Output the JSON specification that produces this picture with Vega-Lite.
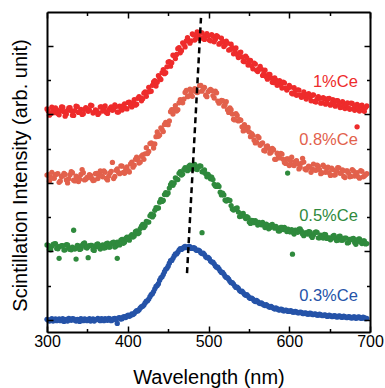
{
"$schema": "https://vega.github.io/schema/vega-lite/v6.json",
"width": 323, "height": 320,
"autosize": "none",
"padding": {"left": 47, "top": 12, "right": 15, "bottom": 56},
"config": {"view": {"stroke": null}, "font": "Liberation Sans"},
"datasets": {
"lbl": [{"c":"r","w":685,"v":6.95,"t":"1%Ce"},{"c":"o","w":685,"v":5.26,"t":"0.8%Ce"},{"c":"g","w":685,"v":3.04,"t":"0.5%Ce"},{"c":"b","w":685,"v":0.70,"t":"0.3%Ce"}],
"dash": [{"w":473.4,"v":1.37},{"w":490.7,"v":8.82}],
"pts": [
{"c":"b","w":300,"v":0.02},{"c":"b","w":303,"v":-0.03},{"c":"b","w":306,"v":0.04},{"c":"b","w":309,"v":0.00},{"c":"b","w":312,"v":-0.02},{"c":"b","w":315,"v":0.03},{"c":"b","w":318,"v":0.01},{"c":"b","w":321,"v":-0.04},{"c":"b","w":324,"v":0.02},{"c":"b","w":327,"v":0.05},{"c":"b","w":330,"v":-0.01},{"c":"b","w":333,"v":0.03},{"c":"b","w":336,"v":-0.03},{"c":"b","w":339,"v":0.01},{"c":"b","w":342,"v":0.04},{"c":"b","w":345,"v":-0.02},{"c":"b","w":348,"v":0.02},{"c":"b","w":351,"v":0.00},{"c":"b","w":354,"v":-0.03},{"c":"b","w":357,"v":0.03},{"c":"b","w":360,"v":0.01},{"c":"b","w":363,"v":0.05},{"c":"b","w":366,"v":-0.02},{"c":"b","w":369,"v":0.02},{"c":"b","w":372,"v":0.04},{"c":"b","w":375,"v":-0.01},{"c":"b","w":378,"v":0.03},{"c":"b","w":381,"v":0.00},{"c":"b","w":384,"v":0.05},{"c":"b","w":387,"v":-0.10},{"c":"b","w":390,"v":0.07},{"c":"b","w":393,"v":0.04},{"c":"b","w":396,"v":0.10},{"c":"b","w":399,"v":0.12},{"c":"b","w":402,"v":0.11},{"c":"b","w":405,"v":0.18},{"c":"b","w":408,"v":0.19},{"c":"b","w":411,"v":0.27},{"c":"b","w":414,"v":0.30},{"c":"b","w":417,"v":0.39},{"c":"b","w":420,"v":0.44},{"c":"b","w":423,"v":0.55},{"c":"b","w":426,"v":0.61},{"c":"b","w":429,"v":0.74},{"c":"b","w":432,"v":0.83},{"c":"b","w":435,"v":0.98},{"c":"b","w":438,"v":1.06},{"c":"b","w":441,"v":1.23},{"c":"b","w":444,"v":1.33},{"c":"b","w":447,"v":1.48},{"c":"b","w":450,"v":1.57},{"c":"b","w":453,"v":1.73},{"c":"b","w":456,"v":1.80},{"c":"b","w":459,"v":1.93},{"c":"b","w":462,"v":1.98},{"c":"b","w":465,"v":2.08},{"c":"b","w":468,"v":2.09},{"c":"b","w":471,"v":2.15},{"c":"b","w":474,"v":2.12},{"c":"b","w":477,"v":2.14},{"c":"b","w":480,"v":2.09},{"c":"b","w":483,"v":2.10},{"c":"b","w":486,"v":2.03},{"c":"b","w":489,"v":2.02},{"c":"b","w":492,"v":1.94},{"c":"b","w":495,"v":1.91},{"c":"b","w":498,"v":1.82},{"c":"b","w":501,"v":1.79},{"c":"b","w":504,"v":1.69},{"c":"b","w":507,"v":1.64},{"c":"b","w":510,"v":1.54},{"c":"b","w":513,"v":1.49},{"c":"b","w":516,"v":1.39},{"c":"b","w":519,"v":1.34},{"c":"b","w":522,"v":1.24},{"c":"b","w":525,"v":1.19},{"c":"b","w":528,"v":1.09},{"c":"b","w":531,"v":1.05},{"c":"b","w":534,"v":0.95},{"c":"b","w":537,"v":0.92},{"c":"b","w":540,"v":0.83},{"c":"b","w":543,"v":0.80},{"c":"b","w":546,"v":0.72},{"c":"b","w":549,"v":0.70},{"c":"b","w":552,"v":0.63},{"c":"b","w":555,"v":0.61},{"c":"b","w":558,"v":0.54},{"c":"b","w":561,"v":0.54},{"c":"b","w":564,"v":0.48},{"c":"b","w":567,"v":0.47},{"c":"b","w":570,"v":0.42},{"c":"b","w":573,"v":0.42},{"c":"b","w":576,"v":0.37},{"c":"b","w":579,"v":0.37},{"c":"b","w":582,"v":0.32},{"c":"b","w":585,"v":0.33},{"c":"b","w":588,"v":0.29},{"c":"b","w":591,"v":0.31},{"c":"b","w":594,"v":0.27},{"c":"b","w":597,"v":0.28},{"c":"b","w":600,"v":0.25},{"c":"b","w":603,"v":0.26},{"c":"b","w":606,"v":0.23},{"c":"b","w":609,"v":0.24},{"c":"b","w":612,"v":0.21},{"c":"b","w":615,"v":0.22},{"c":"b","w":618,"v":0.19},{"c":"b","w":621,"v":0.20},{"c":"b","w":624,"v":0.17},{"c":"b","w":627,"v":0.19},{"c":"b","w":630,"v":0.16},{"c":"b","w":633,"v":0.17},{"c":"b","w":636,"v":0.14},{"c":"b","w":639,"v":0.16},{"c":"b","w":642,"v":0.13},{"c":"b","w":645,"v":0.14},{"c":"b","w":648,"v":0.11},{"c":"b","w":651,"v":0.13},{"c":"b","w":654,"v":0.10},{"c":"b","w":657,"v":0.12},{"c":"b","w":660,"v":0.09},{"c":"b","w":663,"v":0.11},{"c":"b","w":666,"v":0.08},{"c":"b","w":669,"v":0.10},{"c":"b","w":672,"v":0.07},{"c":"b","w":675,"v":0.09},{"c":"b","w":678,"v":0.06},{"c":"b","w":681,"v":0.09},{"c":"b","w":684,"v":0.06},{"c":"b","w":687,"v":0.08},{"c":"b","w":690,"v":0.05},{"c":"b","w":693,"v":0.07},{"c":"b","w":696,"v":0.05},
{"c":"b","w":301.5,"v":-0.01},{"c":"b","w":304.5,"v":0.01},{"c":"b","w":307.5,"v":-0.03},{"c":"b","w":310.5,"v":0.03},{"c":"b","w":313.5,"v":0.01},{"c":"b","w":316.5,"v":-0.02},{"c":"b","w":319.5,"v":0.04},{"c":"b","w":322.5,"v":0.00},{"c":"b","w":325.5,"v":-0.03},{"c":"b","w":328.5,"v":0.02},{"c":"b","w":331.5,"v":0.04},{"c":"b","w":334.5,"v":-0.01},{"c":"b","w":337.5,"v":0.02},{"c":"b","w":340.5,"v":-0.04},{"c":"b","w":343.5,"v":0.01},{"c":"b","w":346.5,"v":0.03},{"c":"b","w":349.5,"v":-0.02},{"c":"b","w":352.5,"v":0.04},{"c":"b","w":355.5,"v":0.00},{"c":"b","w":358.5,"v":-0.03},{"c":"b","w":361.5,"v":0.02},{"c":"b","w":364.5,"v":0.00},{"c":"b","w":367.5,"v":0.04},{"c":"b","w":370.5,"v":-0.02},{"c":"b","w":373.5,"v":0.01},{"c":"b","w":376.5,"v":0.05},{"c":"b","w":379.5,"v":-0.02},{"c":"b","w":382.5,"v":0.04},{"c":"b","w":385.5,"v":0.01},{"c":"b","w":388.5,"v":0.06},{"c":"b","w":391.5,"v":0.03},{"c":"b","w":394.5,"v":0.09},{"c":"b","w":397.5,"v":0.07},{"c":"b","w":400.5,"v":0.14},{"c":"b","w":403.5,"v":0.13},{"c":"b","w":406.5,"v":0.16},{"c":"b","w":409.5,"v":0.24},{"c":"b","w":412.5,"v":0.26},{"c":"b","w":415.5,"v":0.35},{"c":"b","w":418.5,"v":0.40},{"c":"b","w":421.5,"v":0.50},{"c":"b","w":424.5,"v":0.56},{"c":"b","w":427.5,"v":0.68},{"c":"b","w":430.5,"v":0.77},{"c":"b","w":433.5,"v":0.91},{"c":"b","w":436.5,"v":1.01},{"c":"b","w":439.5,"v":1.16},{"c":"b","w":442.5,"v":1.26},{"c":"b","w":445.5,"v":1.41},{"c":"b","w":448.5,"v":1.51},{"c":"b","w":451.5,"v":1.66},{"c":"b","w":454.5,"v":1.74},{"c":"b","w":457.5,"v":1.87},{"c":"b","w":460.5,"v":1.93},{"c":"b","w":463.5,"v":2.04},{"c":"b","w":466.5,"v":2.06},{"c":"b","w":469.5,"v":2.13},{"c":"b","w":472.5,"v":2.11},{"c":"b","w":475.5,"v":2.15},{"c":"b","w":478.5,"v":2.09},{"c":"b","w":481.5,"v":2.11},{"c":"b","w":484.5,"v":2.04},{"c":"b","w":487.5,"v":2.04},{"c":"b","w":490.5,"v":1.96},{"c":"b","w":493.5,"v":1.95},{"c":"b","w":496.5,"v":1.85},{"c":"b","w":499.5,"v":1.83},{"c":"b","w":502.5,"v":1.72},{"c":"b","w":505.5,"v":1.69},{"c":"b","w":508.5,"v":1.58},{"c":"b","w":511.5,"v":1.54},{"c":"b","w":514.5,"v":1.43},{"c":"b","w":517.5,"v":1.39},{"c":"b","w":520.5,"v":1.28},{"c":"b","w":523.5,"v":1.24},{"c":"b","w":526.5,"v":1.13},{"c":"b","w":529.5,"v":1.09},{"c":"b","w":532.5,"v":0.99},{"c":"b","w":535.5,"v":0.96},{"c":"b","w":538.5,"v":0.86},{"c":"b","w":541.5,"v":0.84},{"c":"b","w":544.5,"v":0.75},{"c":"b","w":547.5,"v":0.74},{"c":"b","w":550.5,"v":0.65},{"c":"b","w":553.5,"v":0.64},{"c":"b","w":556.5,"v":0.56},{"c":"b","w":559.5,"v":0.57},{"c":"b","w":562.5,"v":0.50},{"c":"b","w":565.5,"v":0.50},{"c":"b","w":568.5,"v":0.44},{"c":"b","w":571.5,"v":0.45},{"c":"b","w":574.5,"v":0.39},{"c":"b","w":577.5,"v":0.40},{"c":"b","w":580.5,"v":0.34},{"c":"b","w":583.5,"v":0.35},{"c":"b","w":586.5,"v":0.30},{"c":"b","w":589.5,"v":0.32},{"c":"b","w":592.5,"v":0.27},{"c":"b","w":595.5,"v":0.29},{"c":"b","w":598.5,"v":0.25},{"c":"b","w":601.5,"v":0.27},{"c":"b","w":604.5,"v":0.23},{"c":"b","w":607.5,"v":0.25},{"c":"b","w":610.5,"v":0.21},{"c":"b","w":613.5,"v":0.23},{"c":"b","w":616.5,"v":0.19},{"c":"b","w":619.5,"v":0.21},{"c":"b","w":622.5,"v":0.17},{"c":"b","w":625.5,"v":0.20},{"c":"b","w":628.5,"v":0.16},{"c":"b","w":631.5,"v":0.18},{"c":"b","w":634.5,"v":0.14},{"c":"b","w":637.5,"v":0.17},{"c":"b","w":640.5,"v":0.13},{"c":"b","w":643.5,"v":0.15},{"c":"b","w":646.5,"v":0.11},{"c":"b","w":649.5,"v":0.14},{"c":"b","w":652.5,"v":0.10},{"c":"b","w":655.5,"v":0.13},{"c":"b","w":658.5,"v":0.09},{"c":"b","w":661.5,"v":0.12},{"c":"b","w":664.5,"v":0.08},{"c":"b","w":667.5,"v":0.11},{"c":"b","w":670.5,"v":0.07},{"c":"b","w":673.5,"v":0.10},{"c":"b","w":676.5,"v":0.06},{"c":"b","w":679.5,"v":0.09},{"c":"b","w":682.5,"v":0.05},{"c":"b","w":685.5,"v":0.09},{"c":"b","w":688.5,"v":0.05},{"c":"b","w":691.5,"v":0.08},{"c":"b","w":694.5,"v":0.04},
{"c":"g","w":300,"v":2.19},{"c":"g","w":303,"v":2.06},{"c":"g","w":306,"v":2.15},{"c":"g","w":309,"v":2.22},{"c":"g","w":312,"v":2.09},{"c":"g","w":315,"v":1.80},{"c":"g","w":315,"v":2.14},{"c":"g","w":318,"v":2.17},{"c":"g","w":321,"v":2.04},{"c":"g","w":324,"v":2.20},{"c":"g","w":327,"v":2.11},{"c":"g","w":330,"v":2.05},{"c":"g","w":333,"v":2.62},{"c":"g","w":336,"v":1.78},{"c":"g","w":336,"v":2.10},{"c":"g","w":339,"v":2.16},{"c":"g","w":342,"v":2.08},{"c":"g","w":345,"v":2.23},{"c":"g","w":348,"v":2.12},{"c":"g","w":351,"v":1.82},{"c":"g","w":351,"v":2.16},{"c":"g","w":354,"v":2.18},{"c":"g","w":357,"v":2.05},{"c":"g","w":360,"v":2.14},{"c":"g","w":363,"v":2.22},{"c":"g","w":366,"v":2.07},{"c":"g","w":369,"v":2.19},{"c":"g","w":372,"v":2.11},{"c":"g","w":375,"v":2.24},{"c":"g","w":378,"v":2.13},{"c":"g","w":381,"v":2.26},{"c":"g","w":384,"v":2.13},{"c":"g","w":387,"v":1.80},{"c":"g","w":387,"v":2.27},{"c":"g","w":390,"v":2.19},{"c":"g","w":393,"v":2.35},{"c":"g","w":396,"v":2.27},{"c":"g","w":399,"v":2.42},{"c":"g","w":402,"v":2.33},{"c":"g","w":405,"v":2.49},{"c":"g","w":408,"v":2.45},{"c":"g","w":411,"v":2.60},{"c":"g","w":414,"v":2.55},{"c":"g","w":417,"v":2.74},{"c":"g","w":420,"v":2.70},{"c":"g","w":423,"v":2.88},{"c":"g","w":426,"v":2.86},{"c":"g","w":429,"v":3.09},{"c":"g","w":432,"v":3.06},{"c":"g","w":435,"v":3.28},{"c":"g","w":438,"v":3.27},{"c":"g","w":441,"v":3.52},{"c":"g","w":444,"v":3.49},{"c":"g","w":447,"v":3.72},{"c":"g","w":450,"v":3.71},{"c":"g","w":453,"v":3.95},{"c":"g","w":456,"v":3.93},{"c":"g","w":459,"v":4.15},{"c":"g","w":462,"v":4.10},{"c":"g","w":465,"v":4.33},{"c":"g","w":468,"v":4.26},{"c":"g","w":471,"v":4.45},{"c":"g","w":474,"v":4.36},{"c":"g","w":477,"v":4.52},{"c":"g","w":480,"v":4.40},{"c":"g","w":483,"v":4.54},{"c":"g","w":486,"v":4.39},{"c":"g","w":489,"v":4.50},{"c":"g","w":492,"v":4.33},{"c":"g","w":492,"v":2.55},{"c":"g","w":495,"v":4.38},{"c":"g","w":498,"v":4.18},{"c":"g","w":501,"v":4.20},{"c":"g","w":504,"v":4.17},{"c":"g","w":507,"v":3.96},{"c":"g","w":510,"v":3.90},{"c":"g","w":513,"v":3.90},{"c":"g","w":516,"v":3.65},{"c":"g","w":519,"v":3.65},{"c":"g","w":522,"v":3.47},{"c":"g","w":525,"v":3.50},{"c":"g","w":528,"v":3.34},{"c":"g","w":531,"v":3.21},{"c":"g","w":534,"v":3.26},{"c":"g","w":537,"v":3.15},{"c":"g","w":540,"v":3.03},{"c":"g","w":543,"v":3.11},{"c":"g","w":546,"v":2.96},{"c":"g","w":549,"v":2.99},{"c":"g","w":552,"v":2.82},{"c":"g","w":555,"v":2.90},{"c":"g","w":558,"v":2.90},{"c":"g","w":561,"v":2.77},{"c":"g","w":564,"v":2.79},{"c":"g","w":567,"v":2.85},{"c":"g","w":570,"v":2.70},{"c":"g","w":573,"v":2.77},{"c":"g","w":576,"v":2.69},{"c":"g","w":579,"v":2.79},{"c":"g","w":582,"v":2.68},{"c":"g","w":585,"v":2.69},{"c":"g","w":588,"v":2.60},{"c":"g","w":591,"v":2.70},{"c":"g","w":594,"v":2.70},{"c":"g","w":597,"v":2.58},{"c":"g","w":598,"v":4.29},{"c":"g","w":600,"v":2.58},{"c":"g","w":603,"v":2.64},{"c":"g","w":604,"v":1.92},{"c":"g","w":606,"v":2.51},{"c":"g","w":609,"v":2.60},{"c":"g","w":612,"v":2.65},{"c":"g","w":615,"v":2.60},{"c":"g","w":618,"v":2.46},{"c":"g","w":621,"v":2.54},{"c":"g","w":624,"v":2.58},{"c":"g","w":627,"v":2.46},{"c":"g","w":630,"v":2.48},{"c":"g","w":633,"v":2.57},{"c":"g","w":636,"v":2.40},{"c":"g","w":639,"v":2.48},{"c":"g","w":642,"v":2.39},{"c":"g","w":645,"v":2.49},{"c":"g","w":648,"v":2.40},{"c":"g","w":651,"v":2.34},{"c":"g","w":654,"v":2.45},{"c":"g","w":657,"v":2.40},{"c":"g","w":660,"v":2.33},{"c":"g","w":663,"v":2.45},{"c":"g","w":666,"v":2.33},{"c":"g","w":669,"v":2.39},{"c":"g","w":672,"v":2.25},{"c":"g","w":675,"v":2.35},{"c":"g","w":678,"v":2.37},{"c":"g","w":681,"v":2.26},{"c":"g","w":684,"v":2.29},{"c":"g","w":687,"v":2.37},{"c":"g","w":690,"v":2.23},{"c":"g","w":693,"v":2.31},{"c":"g","w":696,"v":2.23},
{"c":"g","w":301.5,"v":2.18},{"c":"g","w":304.5,"v":2.05},{"c":"g","w":307.5,"v":2.21},{"c":"g","w":310.5,"v":2.23},{"c":"g","w":313.5,"v":2.08},{"c":"g","w":316.5,"v":2.15},{"c":"g","w":319.5,"v":2.17},{"c":"g","w":322.5,"v":2.05},{"c":"g","w":325.5,"v":2.19},{"c":"g","w":328.5,"v":2.06},{"c":"g","w":331.5,"v":2.13},{"c":"g","w":334.5,"v":2.07},{"c":"g","w":337.5,"v":2.18},{"c":"g","w":340.5,"v":2.06},{"c":"g","w":343.5,"v":2.18},{"c":"g","w":346.5,"v":2.25},{"c":"g","w":349.5,"v":2.10},{"c":"g","w":352.5,"v":2.16},{"c":"g","w":355.5,"v":2.18},{"c":"g","w":358.5,"v":2.03},{"c":"g","w":361.5,"v":2.21},{"c":"g","w":364.5,"v":2.13},{"c":"g","w":367.5,"v":2.17},{"c":"g","w":370.5,"v":2.10},{"c":"g","w":373.5,"v":2.23},{"c":"g","w":376.5,"v":2.13},{"c":"g","w":379.5,"v":2.22},{"c":"g","w":382.5,"v":2.27},{"c":"g","w":385.5,"v":2.16},{"c":"g","w":388.5,"v":2.22},{"c":"g","w":391.5,"v":2.33},{"c":"g","w":394.5,"v":2.24},{"c":"g","w":397.5,"v":2.38},{"c":"g","w":400.5,"v":2.36},{"c":"g","w":403.5,"v":2.45},{"c":"g","w":406.5,"v":2.42},{"c":"g","w":409.5,"v":2.58},{"c":"g","w":412.5,"v":2.52},{"c":"g","w":415.5,"v":2.67},{"c":"g","w":418.5,"v":2.79},{"c":"g","w":421.5,"v":2.75},{"c":"g","w":424.5,"v":2.86},{"c":"g","w":427.5,"v":3.04},{"c":"g","w":430.5,"v":3.01},{"c":"g","w":433.5,"v":3.20},{"c":"g","w":436.5,"v":3.26},{"c":"g","w":439.5,"v":3.44},{"c":"g","w":442.5,"v":3.46},{"c":"g","w":445.5,"v":3.66},{"c":"g","w":448.5,"v":3.66},{"c":"g","w":451.5,"v":3.85},{"c":"g","w":454.5,"v":4.01},{"c":"g","w":457.5,"v":4.00},{"c":"g","w":460.5,"v":4.12},{"c":"g","w":463.5,"v":4.28},{"c":"g","w":466.5,"v":4.23},{"c":"g","w":469.5,"v":4.39},{"c":"g","w":472.5,"v":4.39},{"c":"g","w":475.5,"v":4.48},{"c":"g","w":478.5,"v":4.41},{"c":"g","w":481.5,"v":4.52},{"c":"g","w":484.5,"v":4.41},{"c":"g","w":487.5,"v":4.47},{"c":"g","w":490.5,"v":4.49},{"c":"g","w":493.5,"v":4.32},{"c":"g","w":496.5,"v":4.27},{"c":"g","w":499.5,"v":4.25},{"c":"g","w":502.5,"v":4.12},{"c":"g","w":505.5,"v":4.10},{"c":"g","w":508.5,"v":3.91},{"c":"g","w":511.5,"v":3.94},{"c":"g","w":514.5,"v":3.73},{"c":"g","w":517.5,"v":3.70},{"c":"g","w":520.5,"v":3.50},{"c":"g","w":523.5,"v":3.51},{"c":"g","w":526.5,"v":3.49},{"c":"g","w":529.5,"v":3.24},{"c":"g","w":532.5,"v":3.23},{"c":"g","w":535.5,"v":3.27},{"c":"g","w":538.5,"v":3.02},{"c":"g","w":541.5,"v":3.10},{"c":"g","w":544.5,"v":3.02},{"c":"g","w":547.5,"v":3.02},{"c":"g","w":550.5,"v":2.86},{"c":"g","w":553.5,"v":2.91},{"c":"g","w":556.5,"v":2.84},{"c":"g","w":559.5,"v":2.86},{"c":"g","w":562.5,"v":2.85},{"c":"g","w":565.5,"v":2.78},{"c":"g","w":568.5,"v":2.77},{"c":"g","w":571.5,"v":2.80},{"c":"g","w":574.5,"v":2.66},{"c":"g","w":577.5,"v":2.77},{"c":"g","w":580.5,"v":2.72},{"c":"g","w":583.5,"v":2.73},{"c":"g","w":586.5,"v":2.60},{"c":"g","w":589.5,"v":2.70},{"c":"g","w":592.5,"v":2.64},{"c":"g","w":595.5,"v":2.66},{"c":"g","w":598.5,"v":2.65},{"c":"g","w":601.5,"v":2.57},{"c":"g","w":604.5,"v":2.57},{"c":"g","w":607.5,"v":2.62},{"c":"g","w":610.5,"v":2.56},{"c":"g","w":613.5,"v":2.66},{"c":"g","w":616.5,"v":2.51},{"c":"g","w":619.5,"v":2.54},{"c":"g","w":622.5,"v":2.51},{"c":"g","w":625.5,"v":2.57},{"c":"g","w":628.5,"v":2.41},{"c":"g","w":631.5,"v":2.55},{"c":"g","w":634.5,"v":2.56},{"c":"g","w":637.5,"v":2.40},{"c":"g","w":640.5,"v":2.43},{"c":"g","w":643.5,"v":2.50},{"c":"g","w":646.5,"v":2.38},{"c":"g","w":649.5,"v":2.40},{"c":"g","w":652.5,"v":2.38},{"c":"g","w":655.5,"v":2.47},{"c":"g","w":658.5,"v":2.32},{"c":"g","w":661.5,"v":2.44},{"c":"g","w":664.5,"v":2.33},{"c":"g","w":667.5,"v":2.38},{"c":"g","w":670.5,"v":2.39},{"c":"g","w":673.5,"v":2.26},{"c":"g","w":676.5,"v":2.35},{"c":"g","w":679.5,"v":2.38},{"c":"g","w":682.5,"v":2.21},{"c":"g","w":685.5,"v":2.36},{"c":"g","w":688.5,"v":2.28},{"c":"g","w":691.5,"v":2.31},{"c":"g","w":694.5,"v":2.22},
{"c":"o","w":300,"v":4.23},{"c":"o","w":303,"v":4.05},{"c":"o","w":306,"v":4.31},{"c":"o","w":309,"v":4.14},{"c":"o","w":312,"v":4.26},{"c":"o","w":315,"v":4.02},{"c":"o","w":318,"v":4.19},{"c":"o","w":321,"v":4.28},{"c":"o","w":324,"v":4.09},{"c":"o","w":327,"v":4.12},{"c":"o","w":330,"v":4.33},{"c":"o","w":333,"v":4.08},{"c":"o","w":336,"v":4.20},{"c":"o","w":339,"v":4.04},{"c":"o","w":342,"v":4.25},{"c":"o","w":345,"v":4.30},{"c":"o","w":348,"v":4.11},{"c":"o","w":351,"v":4.16},{"c":"o","w":354,"v":4.22},{"c":"o","w":357,"v":4.07},{"c":"o","w":360,"v":4.27},{"c":"o","w":363,"v":4.13},{"c":"o","w":366,"v":4.35},{"c":"o","w":369,"v":4.18},{"c":"o","w":372,"v":4.31},{"c":"o","w":375,"v":4.09},{"c":"o","w":378,"v":4.29},{"c":"o","w":381,"v":4.60},{"c":"o","w":384,"v":4.19},{"c":"o","w":387,"v":4.41},{"c":"o","w":390,"v":4.27},{"c":"o","w":393,"v":4.49},{"c":"o","w":396,"v":4.28},{"c":"o","w":399,"v":4.47},{"c":"o","w":402,"v":4.32},{"c":"o","w":405,"v":4.61},{"c":"o","w":408,"v":4.52},{"c":"o","w":411,"v":4.75},{"c":"o","w":414,"v":4.58},{"c":"o","w":417,"v":4.78},{"c":"o","w":420,"v":4.69},{"c":"o","w":423,"v":5.03},{"c":"o","w":426,"v":4.92},{"c":"o","w":429,"v":5.17},{"c":"o","w":432,"v":5.02},{"c":"o","w":435,"v":5.35},{"c":"o","w":438,"v":5.36},{"c":"o","w":441,"v":5.61},{"c":"o","w":444,"v":5.50},{"c":"o","w":447,"v":5.77},{"c":"o","w":450,"v":5.70},{"c":"o","w":453,"v":6.08},{"c":"o","w":456,"v":6.01},{"c":"o","w":459,"v":6.26},{"c":"o","w":462,"v":6.14},{"c":"o","w":465,"v":6.43},{"c":"o","w":468,"v":6.34},{"c":"o","w":471,"v":6.64},{"c":"o","w":474,"v":6.52},{"c":"o","w":477,"v":6.74},{"c":"o","w":480,"v":6.53},{"c":"o","w":483,"v":6.75},{"c":"o","w":486,"v":6.64},{"c":"o","w":489,"v":6.84},{"c":"o","w":492,"v":6.68},{"c":"o","w":495,"v":6.79},{"c":"o","w":498,"v":6.52},{"c":"o","w":501,"v":6.70},{"c":"o","w":504,"v":6.70},{"c":"o","w":507,"v":6.48},{"c":"o","w":510,"v":6.63},{"c":"o","w":513,"v":6.33},{"c":"o","w":516,"v":6.41},{"c":"o","w":519,"v":6.24},{"c":"o","w":522,"v":6.37},{"c":"o","w":525,"v":6.06},{"c":"o","w":528,"v":6.14},{"c":"o","w":531,"v":5.86},{"c":"o","w":534,"v":6.02},{"c":"o","w":537,"v":5.81},{"c":"o","w":540,"v":5.83},{"c":"o","w":543,"v":5.52},{"c":"o","w":546,"v":5.63},{"c":"o","w":549,"v":5.62},{"c":"o","w":552,"v":5.35},{"c":"o","w":555,"v":5.39},{"c":"o","w":558,"v":5.17},{"c":"o","w":561,"v":5.36},{"c":"o","w":564,"v":5.10},{"c":"o","w":567,"v":5.17},{"c":"o","w":570,"v":4.93},{"c":"o","w":573,"v":5.08},{"c":"o","w":576,"v":4.87},{"c":"o","w":579,"v":5.01},{"c":"o","w":582,"v":4.69},{"c":"o","w":585,"v":4.87},{"c":"o","w":588,"v":4.73},{"c":"o","w":591,"v":4.84},{"c":"o","w":594,"v":4.60},{"c":"o","w":597,"v":4.70},{"c":"o","w":600,"v":4.51},{"c":"o","w":603,"v":4.75},{"c":"o","w":606,"v":4.51},{"c":"o","w":609,"v":4.65},{"c":"o","w":612,"v":4.41},{"c":"o","w":615,"v":4.58},{"c":"o","w":618,"v":4.61},{"c":"o","w":621,"v":4.38},{"c":"o","w":624,"v":4.49},{"c":"o","w":627,"v":4.31},{"c":"o","w":630,"v":4.55},{"c":"o","w":633,"v":4.37},{"c":"o","w":636,"v":4.49},{"c":"o","w":639,"v":4.27},{"c":"o","w":642,"v":4.52},{"c":"o","w":645,"v":4.31},{"c":"o","w":648,"v":4.46},{"c":"o","w":651,"v":4.22},{"c":"o","w":654,"v":4.39},{"c":"o","w":657,"v":4.24},{"c":"o","w":660,"v":4.45},{"c":"o","w":663,"v":4.28},{"c":"o","w":666,"v":4.38},{"c":"o","w":669,"v":4.16},{"c":"o","w":672,"v":4.35},{"c":"o","w":675,"v":4.18},{"c":"o","w":678,"v":4.39},{"c":"o","w":681,"v":4.20},{"c":"o","w":684,"v":4.30},{"c":"o","w":687,"v":4.14},{"c":"o","w":690,"v":4.34},{"c":"o","w":693,"v":4.20},{"c":"o","w":696,"v":4.27},
{"c":"o","w":301.5,"v":4.24},{"c":"o","w":304.5,"v":4.17},{"c":"o","w":307.5,"v":4.14},{"c":"o","w":310.5,"v":4.24},{"c":"o","w":313.5,"v":4.27},{"c":"o","w":316.5,"v":4.06},{"c":"o","w":319.5,"v":4.21},{"c":"o","w":322.5,"v":4.25},{"c":"o","w":325.5,"v":4.00},{"c":"o","w":328.5,"v":4.24},{"c":"o","w":331.5,"v":4.30},{"c":"o","w":334.5,"v":4.06},{"c":"o","w":337.5,"v":4.16},{"c":"o","w":340.5,"v":4.11},{"c":"o","w":343.5,"v":4.39},{"c":"o","w":346.5,"v":4.09},{"c":"o","w":349.5,"v":4.16},{"c":"o","w":352.5,"v":4.24},{"c":"o","w":355.5,"v":4.13},{"c":"o","w":358.5,"v":4.08},{"c":"o","w":361.5,"v":4.28},{"c":"o","w":364.5,"v":4.24},{"c":"o","w":367.5,"v":4.21},{"c":"o","w":370.5,"v":4.35},{"c":"o","w":373.5,"v":4.13},{"c":"o","w":376.5,"v":4.20},{"c":"o","w":379.5,"v":4.34},{"c":"o","w":382.5,"v":4.13},{"c":"o","w":385.5,"v":4.37},{"c":"o","w":388.5,"v":4.31},{"c":"o","w":391.5,"v":4.50},{"c":"o","w":394.5,"v":4.31},{"c":"o","w":397.5,"v":4.41},{"c":"o","w":400.5,"v":4.36},{"c":"o","w":403.5,"v":4.56},{"c":"o","w":406.5,"v":4.46},{"c":"o","w":409.5,"v":4.69},{"c":"o","w":412.5,"v":4.68},{"c":"o","w":415.5,"v":4.61},{"c":"o","w":418.5,"v":4.82},{"c":"o","w":421.5,"v":4.85},{"c":"o","w":424.5,"v":4.86},{"c":"o","w":427.5,"v":5.15},{"c":"o","w":430.5,"v":5.14},{"c":"o","w":433.5,"v":5.14},{"c":"o","w":436.5,"v":5.49},{"c":"o","w":439.5,"v":5.40},{"c":"o","w":442.5,"v":5.56},{"c":"o","w":445.5,"v":5.71},{"c":"o","w":448.5,"v":5.71},{"c":"o","w":451.5,"v":5.81},{"c":"o","w":454.5,"v":6.14},{"c":"o","w":457.5,"v":6.15},{"c":"o","w":460.5,"v":6.10},{"c":"o","w":463.5,"v":6.34},{"c":"o","w":466.5,"v":6.42},{"c":"o","w":469.5,"v":6.45},{"c":"o","w":472.5,"v":6.70},{"c":"o","w":475.5,"v":6.54},{"c":"o","w":478.5,"v":6.64},{"c":"o","w":481.5,"v":6.71},{"c":"o","w":484.5,"v":6.67},{"c":"o","w":487.5,"v":6.66},{"c":"o","w":490.5,"v":6.85},{"c":"o","w":493.5,"v":6.75},{"c":"o","w":496.5,"v":6.56},{"c":"o","w":499.5,"v":6.66},{"c":"o","w":502.5,"v":6.73},{"c":"o","w":505.5,"v":6.55},{"c":"o","w":508.5,"v":6.68},{"c":"o","w":511.5,"v":6.39},{"c":"o","w":514.5,"v":6.37},{"c":"o","w":517.5,"v":6.40},{"c":"o","w":520.5,"v":6.28},{"c":"o","w":523.5,"v":6.14},{"c":"o","w":526.5,"v":6.19},{"c":"o","w":529.5,"v":6.01},{"c":"o","w":532.5,"v":5.84},{"c":"o","w":535.5,"v":5.97},{"c":"o","w":538.5,"v":5.85},{"c":"o","w":541.5,"v":5.64},{"c":"o","w":544.5,"v":5.70},{"c":"o","w":547.5,"v":5.54},{"c":"o","w":550.5,"v":5.49},{"c":"o","w":553.5,"v":5.44},{"c":"o","w":556.5,"v":5.25},{"c":"o","w":559.5,"v":5.19},{"c":"o","w":562.5,"v":5.32},{"c":"o","w":565.5,"v":5.15},{"c":"o","w":568.5,"v":4.95},{"c":"o","w":571.5,"v":5.06},{"c":"o","w":574.5,"v":5.01},{"c":"o","w":577.5,"v":4.90},{"c":"o","w":580.5,"v":4.97},{"c":"o","w":583.5,"v":4.69},{"c":"o","w":586.5,"v":4.80},{"c":"o","w":589.5,"v":4.86},{"c":"o","w":592.5,"v":4.69},{"c":"o","w":595.5,"v":4.57},{"c":"o","w":598.5,"v":4.70},{"c":"o","w":601.5,"v":4.64},{"c":"o","w":604.5,"v":4.53},{"c":"o","w":607.5,"v":4.63},{"c":"o","w":610.5,"v":4.56},{"c":"o","w":613.5,"v":4.46},{"c":"o","w":616.5,"v":4.72},{"c":"o","w":619.5,"v":4.41},{"c":"o","w":622.5,"v":4.44},{"c":"o","w":625.5,"v":4.47},{"c":"o","w":628.5,"v":4.40},{"c":"o","w":631.5,"v":4.38},{"c":"o","w":634.5,"v":4.52},{"c":"o","w":637.5,"v":4.39},{"c":"o","w":640.5,"v":4.30},{"c":"o","w":643.5,"v":4.47},{"c":"o","w":646.5,"v":4.42},{"c":"o","w":649.5,"v":4.30},{"c":"o","w":652.5,"v":4.43},{"c":"o","w":655.5,"v":4.23},{"c":"o","w":658.5,"v":4.35},{"c":"o","w":661.5,"v":4.44},{"c":"o","w":664.5,"v":4.30},{"c":"o","w":667.5,"v":4.19},{"c":"o","w":670.5,"v":4.35},{"c":"o","w":673.5,"v":4.28},{"c":"o","w":676.5,"v":4.19},{"c":"o","w":679.5,"v":4.35},{"c":"o","w":682.5,"v":4.28},{"c":"o","w":685.5,"v":4.18},{"c":"o","w":688.5,"v":4.36},{"c":"o","w":691.5,"v":4.18},{"c":"o","w":694.5,"v":4.24},
{"c":"r","w":300,"v":6.16},{"c":"r","w":303,"v":5.98},{"c":"r","w":306,"v":6.21},{"c":"r","w":309,"v":6.05},{"c":"r","w":312,"v":6.14},{"c":"r","w":315,"v":5.99},{"c":"r","w":318,"v":6.22},{"c":"r","w":321,"v":6.08},{"c":"r","w":324,"v":6.01},{"c":"r","w":327,"v":6.19},{"c":"r","w":330,"v":6.11},{"c":"r","w":333,"v":5.97},{"c":"r","w":336,"v":6.24},{"c":"r","w":339,"v":6.06},{"c":"r","w":342,"v":6.15},{"c":"r","w":345,"v":6.02},{"c":"r","w":348,"v":6.20},{"c":"r","w":351,"v":6.09},{"c":"r","w":354,"v":6.27},{"c":"r","w":357,"v":6.04},{"c":"r","w":360,"v":6.13},{"c":"r","w":363,"v":6.00},{"c":"r","w":366,"v":6.22},{"c":"r","w":369,"v":6.10},{"c":"r","w":372,"v":6.25},{"c":"r","w":375,"v":6.03},{"c":"r","w":378,"v":6.18},{"c":"r","w":381,"v":6.12},{"c":"r","w":384,"v":6.28},{"c":"r","w":387,"v":6.07},{"c":"r","w":390,"v":6.24},{"c":"r","w":393,"v":6.13},{"c":"r","w":396,"v":6.31},{"c":"r","w":399,"v":6.16},{"c":"r","w":402,"v":6.36},{"c":"r","w":405,"v":6.22},{"c":"r","w":408,"v":6.43},{"c":"r","w":411,"v":6.30},{"c":"r","w":414,"v":6.52},{"c":"r","w":417,"v":6.40},{"c":"r","w":420,"v":6.62},{"c":"r","w":423,"v":6.53},{"c":"r","w":426,"v":6.79},{"c":"r","w":429,"v":6.68},{"c":"r","w":432,"v":6.95},{"c":"r","w":435,"v":6.83},{"c":"r","w":438,"v":7.13},{"c":"r","w":441,"v":7.02},{"c":"r","w":444,"v":7.31},{"c":"r","w":447,"v":7.22},{"c":"r","w":450,"v":7.53},{"c":"r","w":453,"v":7.41},{"c":"r","w":456,"v":7.73},{"c":"r","w":459,"v":7.63},{"c":"r","w":462,"v":7.92},{"c":"r","w":465,"v":7.80},{"c":"r","w":468,"v":8.09},{"c":"r","w":471,"v":7.97},{"c":"r","w":474,"v":8.24},{"c":"r","w":477,"v":8.08},{"c":"r","w":480,"v":8.35},{"c":"r","w":483,"v":8.17},{"c":"r","w":486,"v":8.41},{"c":"r","w":489,"v":8.21},{"c":"r","w":492,"v":8.38},{"c":"r","w":495,"v":8.19},{"c":"r","w":498,"v":8.36},{"c":"r","w":501,"v":8.17},{"c":"r","w":504,"v":8.33},{"c":"r","w":507,"v":8.12},{"c":"r","w":510,"v":8.30},{"c":"r","w":513,"v":8.05},{"c":"r","w":516,"v":8.23},{"c":"r","w":519,"v":7.98},{"c":"r","w":522,"v":8.14},{"c":"r","w":525,"v":7.88},{"c":"r","w":528,"v":8.05},{"c":"r","w":531,"v":7.77},{"c":"r","w":534,"v":7.94},{"c":"r","w":537,"v":7.66},{"c":"r","w":540,"v":7.82},{"c":"r","w":543,"v":7.55},{"c":"r","w":546,"v":7.70},{"c":"r","w":549,"v":7.44},{"c":"r","w":552,"v":7.58},{"c":"r","w":555,"v":7.33},{"c":"r","w":558,"v":7.47},{"c":"r","w":561,"v":7.25},{"c":"r","w":564,"v":7.40},{"c":"r","w":567,"v":7.14},{"c":"r","w":570,"v":7.29},{"c":"r","w":573,"v":7.03},{"c":"r","w":576,"v":7.17},{"c":"r","w":579,"v":6.94},{"c":"r","w":582,"v":7.07},{"c":"r","w":585,"v":6.85},{"c":"r","w":588,"v":6.99},{"c":"r","w":591,"v":6.77},{"c":"r","w":594,"v":6.92},{"c":"r","w":597,"v":6.71},{"c":"r","w":600,"v":6.85},{"c":"r","w":603,"v":6.62},{"c":"r","w":606,"v":6.78},{"c":"r","w":609,"v":6.56},{"c":"r","w":612,"v":6.71},{"c":"r","w":615,"v":6.50},{"c":"r","w":618,"v":6.66},{"c":"r","w":621,"v":6.45},{"c":"r","w":624,"v":6.61},{"c":"r","w":627,"v":6.40},{"c":"r","w":630,"v":6.57},{"c":"r","w":633,"v":6.36},{"c":"r","w":636,"v":6.52},{"c":"r","w":639,"v":6.33},{"c":"r","w":642,"v":6.49},{"c":"r","w":645,"v":6.30},{"c":"r","w":648,"v":6.46},{"c":"r","w":651,"v":6.27},{"c":"r","w":654,"v":6.43},{"c":"r","w":657,"v":6.24},{"c":"r","w":660,"v":6.40},{"c":"r","w":663,"v":6.20},{"c":"r","w":666,"v":6.37},{"c":"r","w":669,"v":6.17},{"c":"r","w":672,"v":6.34},{"c":"r","w":675,"v":6.15},{"c":"r","w":678,"v":6.32},{"c":"r","w":681,"v":6.12},{"c":"r","w":684,"v":6.29},{"c":"r","w":684,"v":5.64},{"c":"r","w":687,"v":6.10},{"c":"r","w":690,"v":6.27},{"c":"r","w":693,"v":6.09},{"c":"r","w":696,"v":6.25},
{"c":"r","w":301.5,"v":6.10},{"c":"r","w":304.5,"v":6.02},{"c":"r","w":307.5,"v":6.14},{"c":"r","w":310.5,"v":6.19},{"c":"r","w":313.5,"v":6.03},{"c":"r","w":316.5,"v":6.10},{"c":"r","w":319.5,"v":6.21},{"c":"r","w":322.5,"v":5.95},{"c":"r","w":325.5,"v":6.12},{"c":"r","w":328.5,"v":6.20},{"c":"r","w":331.5,"v":5.98},{"c":"r","w":334.5,"v":6.11},{"c":"r","w":337.5,"v":6.23},{"c":"r","w":340.5,"v":6.08},{"c":"r","w":343.5,"v":6.00},{"c":"r","w":346.5,"v":6.15},{"c":"r","w":349.5,"v":6.16},{"c":"r","w":352.5,"v":6.13},{"c":"r","w":355.5,"v":6.26},{"c":"r","w":358.5,"v":6.07},{"c":"r","w":361.5,"v":6.10},{"c":"r","w":364.5,"v":6.04},{"c":"r","w":367.5,"v":6.22},{"c":"r","w":370.5,"v":6.17},{"c":"r","w":373.5,"v":6.06},{"c":"r","w":376.5,"v":6.13},{"c":"r","w":379.5,"v":6.22},{"c":"r","w":382.5,"v":6.16},{"c":"r","w":385.5,"v":6.23},{"c":"r","w":388.5,"v":6.07},{"c":"r","w":391.5,"v":6.19},{"c":"r","w":394.5,"v":6.26},{"c":"r","w":397.5,"v":6.18},{"c":"r","w":400.5,"v":6.35},{"c":"r","w":403.5,"v":6.26},{"c":"r","w":406.5,"v":6.34},{"c":"r","w":409.5,"v":6.27},{"c":"r","w":412.5,"v":6.47},{"c":"r","w":415.5,"v":6.48},{"c":"r","w":418.5,"v":6.46},{"c":"r","w":421.5,"v":6.66},{"c":"r","w":424.5,"v":6.65},{"c":"r","w":427.5,"v":6.67},{"c":"r","w":430.5,"v":6.85},{"c":"r","w":433.5,"v":6.99},{"c":"r","w":436.5,"v":6.94},{"c":"r","w":439.5,"v":7.06},{"c":"r","w":442.5,"v":7.22},{"c":"r","w":445.5,"v":7.19},{"c":"r","w":448.5,"v":7.39},{"c":"r","w":451.5,"v":7.54},{"c":"r","w":454.5,"v":7.51},{"c":"r","w":457.5,"v":7.71},{"c":"r","w":460.5,"v":7.75},{"c":"r","w":463.5,"v":7.95},{"c":"r","w":466.5,"v":7.86},{"c":"r","w":469.5,"v":8.05},{"c":"r","w":472.5,"v":8.15},{"c":"r","w":475.5,"v":8.15},{"c":"r","w":478.5,"v":8.15},{"c":"r","w":481.5,"v":8.32},{"c":"r","w":484.5,"v":8.29},{"c":"r","w":487.5,"v":8.27},{"c":"r","w":490.5,"v":8.38},{"c":"r","w":493.5,"v":8.24},{"c":"r","w":496.5,"v":8.29},{"c":"r","w":499.5,"v":8.30},{"c":"r","w":502.5,"v":8.15},{"c":"r","w":505.5,"v":8.28},{"c":"r","w":508.5,"v":8.19},{"c":"r","w":511.5,"v":8.27},{"c":"r","w":514.5,"v":8.08},{"c":"r","w":517.5,"v":8.13},{"c":"r","w":520.5,"v":8.03},{"c":"r","w":523.5,"v":8.08},{"c":"r","w":526.5,"v":7.89},{"c":"r","w":529.5,"v":7.95},{"c":"r","w":532.5,"v":7.87},{"c":"r","w":535.5,"v":7.75},{"c":"r","w":538.5,"v":7.80},{"c":"r","w":541.5,"v":7.68},{"c":"r","w":544.5,"v":7.54},{"c":"r","w":547.5,"v":7.65},{"c":"r","w":550.5,"v":7.54},{"c":"r","w":553.5,"v":7.42},{"c":"r","w":556.5,"v":7.50},{"c":"r","w":559.5,"v":7.29},{"c":"r","w":562.5,"v":7.33},{"c":"r","w":565.5,"v":7.32},{"c":"r","w":568.5,"v":7.20},{"c":"r","w":571.5,"v":7.10},{"c":"r","w":574.5,"v":7.17},{"c":"r","w":577.5,"v":7.07},{"c":"r","w":580.5,"v":6.93},{"c":"r","w":583.5,"v":7.00},{"c":"r","w":586.5,"v":6.94},{"c":"r","w":589.5,"v":6.85},{"c":"r","w":592.5,"v":6.94},{"c":"r","w":595.5,"v":6.77},{"c":"r","w":598.5,"v":6.77},{"c":"r","w":601.5,"v":6.80},{"c":"r","w":604.5,"v":6.60},{"c":"r","w":607.5,"v":6.70},{"c":"r","w":610.5,"v":6.72},{"c":"r","w":613.5,"v":6.57},{"c":"r","w":616.5,"v":6.52},{"c":"r","w":619.5,"v":6.58},{"c":"r","w":622.5,"v":6.58},{"c":"r","w":625.5,"v":6.50},{"c":"r","w":628.5,"v":6.56},{"c":"r","w":631.5,"v":6.38},{"c":"r","w":634.5,"v":6.45},{"c":"r","w":637.5,"v":6.47},{"c":"r","w":640.5,"v":6.34},{"c":"r","w":643.5,"v":6.46},{"c":"r","w":646.5,"v":6.36},{"c":"r","w":649.5,"v":6.47},{"c":"r","w":652.5,"v":6.32},{"c":"r","w":655.5,"v":6.29},{"c":"r","w":658.5,"v":6.40},{"c":"r","w":661.5,"v":6.30},{"c":"r","w":664.5,"v":6.21},{"c":"r","w":667.5,"v":6.30},{"c":"r","w":670.5,"v":6.28},{"c":"r","w":673.5,"v":6.19},{"c":"r","w":676.5,"v":6.33},{"c":"r","w":679.5,"v":6.18},{"c":"r","w":682.5,"v":6.26},{"c":"r","w":685.5,"v":6.19},{"c":"r","w":688.5,"v":6.26},{"c":"r","w":691.5,"v":6.16},{"c":"r","w":694.5,"v":6.20}
]},
"layer": [
{"data": {"name": "pts"},
 "mark": {"type": "circle", "size": 28, "opacity": 1},
 "encoding": {
  "x": {"field": "w", "type": "quantitative", "scale": {"domain": [300, 700], "nice": false, "zero": false},
   "axis": {"orient": "bottom", "values": [300, 400, 500, 600, 700], "labelFlush": false, "tickSize": -6, "tickWidth": 1.5, "tickColor": "black", "domainColor": "black", "domainWidth": 2, "labelPadding": 7, "labelFontSize": 16, "labelColor": "black", "labelFont": "Liberation Sans", "grid": false, "title": "Wavelength (nm)", "titleFontSize": 20, "titleFontWeight": "normal", "titleColor": "black", "titleFont": "Liberation Sans", "titleBaseline": "alphabetic", "titleY": 51, "zindex": 1}},
  "y": {"field": "v", "type": "quantitative", "scale": {"domain": [-0.35, 8.99], "nice": false, "zero": false},
   "axis": {"orient": "left", "values": [0, 2, 4, 6, 8], "labels": false, "tickSize": -6, "tickWidth": 1.5, "tickColor": "black", "domainColor": "black", "domainWidth": 2, "grid": false, "title": "Scintillation Intensity (arb. unit)", "titleFontSize": 20, "titleFontWeight": "normal", "titleColor": "black", "titleFont": "Liberation Sans", "titleAngle": -90, "titleBaseline": "alphabetic", "titleAlign": "center", "titleX": -21, "titleY": 163, "zindex": 1}},
  "color": {"field": "c", "type": "nominal", "scale": {"domain": ["r", "o", "g", "b"], "range": ["#ee2b2b", "#e2614c", "#2f8a3d", "#2553a8"]}, "legend": null}
 }},
{"data": {"name": "dash"},
 "mark": {"type": "line", "color": "black", "strokeWidth": 2.5, "strokeDash": [6, 4]},
 "encoding": {
  "x": {"field": "w", "type": "quantitative", "scale": {"domain": [300, 700], "nice": false, "zero": false},
   "axis": {"orient": "top", "values": [300, 400, 500, 600, 700], "labels": false, "tickSize": -6, "tickWidth": 1.5, "tickColor": "black", "domainColor": "black", "domainWidth": 2, "grid": false, "title": null, "zindex": 1}},
  "y": {"field": "v", "type": "quantitative", "scale": {"domain": [-0.35, 8.99], "nice": false, "zero": false}, "axis": null}
 }},
{"data": {"name": "lbl"},
 "mark": {"type": "text", "align": "right", "baseline": "middle", "fontSize": 16.5, "font": "Liberation Sans"},
 "encoding": {
  "x": {"field": "w", "type": "quantitative", "scale": {"domain": [300, 700], "nice": false, "zero": false}, "axis": null},
  "y": {"field": "v", "type": "quantitative", "scale": {"domain": [-0.35, 8.99], "nice": false, "zero": false},
   "axis": {"orient": "right", "values": [0, 2, 4, 6, 8], "labels": false, "tickSize": -6, "tickWidth": 1.5, "tickColor": "black", "domainColor": "black", "domainWidth": 2, "grid": false, "title": null, "zindex": 1}},
  "text": {"field": "t"},
  "color": {"field": "c", "type": "nominal", "scale": {"domain": ["r", "o", "g", "b"], "range": ["#ee2b2b", "#e2614c", "#2f8a3d", "#2553a8"]}, "legend": null}
 }},
{"data": {"name": "lbl"},
 "mark": {"type": "point", "opacity": 0},
 "encoding": {
  "x": {"field": "w", "type": "quantitative", "scale": {"domain": [300, 700], "nice": false, "zero": false},
   "axis": {"orient": "bottom", "values": [350, 450, 550, 650], "labels": false, "domain": false, "tickSize": -3.5, "tickWidth": 1.5, "tickColor": "black", "grid": false, "title": null, "zindex": 1}},
  "y": {"field": "v", "type": "quantitative", "scale": {"domain": [-0.35, 8.99], "nice": false, "zero": false},
   "axis": {"orient": "left", "values": [1, 3, 5, 7], "labels": false, "domain": false, "tickSize": -3.5, "tickWidth": 1.5, "tickColor": "black", "grid": false, "title": null, "zindex": 1}}
 }},
{"data": {"name": "lbl"},
 "mark": {"type": "point", "opacity": 0},
 "encoding": {
  "x": {"field": "w", "type": "quantitative", "scale": {"domain": [300, 700], "nice": false, "zero": false},
   "axis": {"orient": "top", "values": [350, 450, 550, 650], "labels": false, "domain": false, "tickSize": -3.5, "tickWidth": 1.5, "tickColor": "black", "grid": false, "title": null, "zindex": 1}},
  "y": {"field": "v", "type": "quantitative", "scale": {"domain": [-0.35, 8.99], "nice": false, "zero": false},
   "axis": {"orient": "right", "values": [1, 3, 5, 7], "labels": false, "domain": false, "tickSize": -3.5, "tickWidth": 1.5, "tickColor": "black", "grid": false, "title": null, "zindex": 1}}
 }}
],
"resolve": {"axis": {"x": "independent", "y": "independent"}}
}
